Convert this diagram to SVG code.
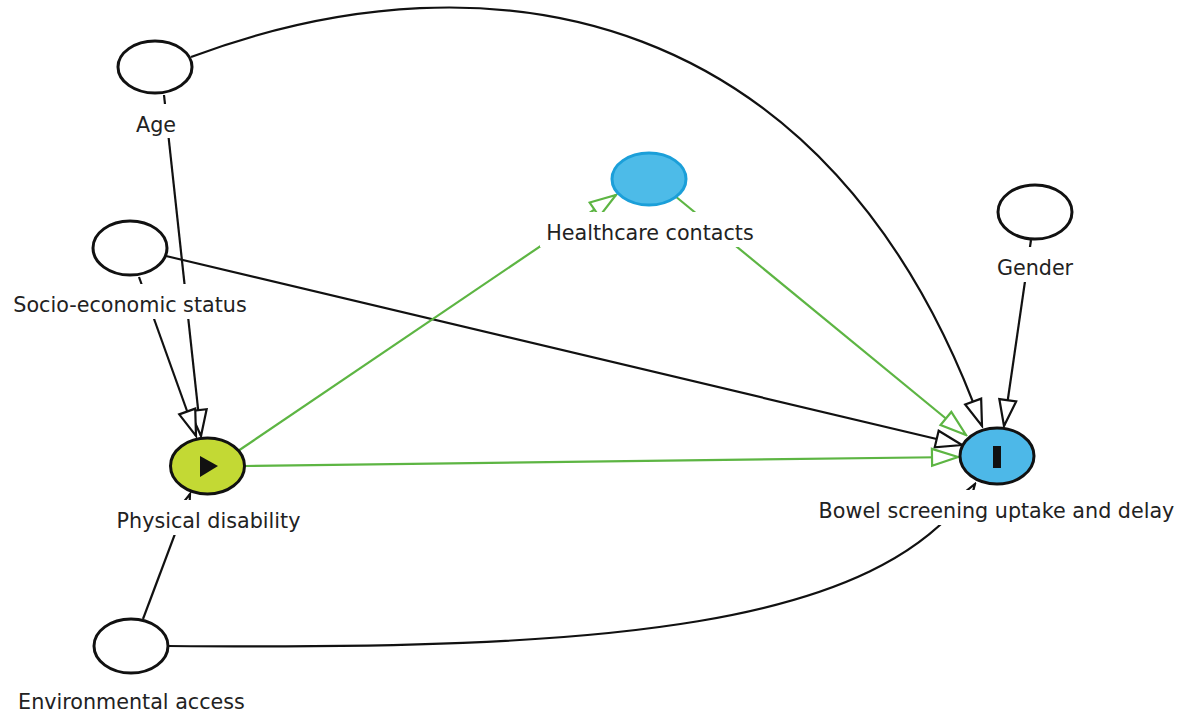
<svg xmlns="http://www.w3.org/2000/svg" width="1180" height="715" viewBox="0 0 1180 715">
<style>
.e{fill:none;stroke:#111;stroke-width:2.2}
.g{fill:none;stroke:#5db543;stroke-width:2.2}
.n{fill:#fff;stroke:#111;stroke-width:3}
.lb{fill:#fff;stroke:none}
.t{font-family:"DejaVu Sans",sans-serif;font-size:20.7px;fill:#222;text-anchor:middle}
</style>
<defs>
<marker id="ab" viewBox="-2 -2 30 21" refX="26" refY="8.5" markerWidth="30" markerHeight="21" markerUnits="userSpaceOnUse" orient="auto">
<path d="M0,0 L26,8.5 L0,17 Z" fill="#fff" stroke="#111" stroke-width="2.2"/>
</marker>
<marker id="ag" viewBox="-2 -2 30 21" refX="26" refY="8.5" markerWidth="30" markerHeight="21" markerUnits="userSpaceOnUse" orient="auto">
<path d="M0,0 L26,8.5 L0,17 Z" fill="#fff" stroke="#5db543" stroke-width="2.2"/>
</marker>
</defs>
<rect width="1180" height="715" fill="#fff"/>
<g id="connectors">
<path class="e" d="M191,57 C491,-55 830,5 982,426" marker-end="url(#ab)"/>
<path class="e" d="M166,256 L962,445" marker-end="url(#ab)"/>
<path class="e" d="M1031,240 L1004,426" marker-end="url(#ab)"/>
<path class="e" d="M164,95 L201,436" marker-end="url(#ab)"/>
<path class="e" d="M139,277 L196,436" marker-end="url(#ab)"/>
<path class="e" d="M143,619 L190,494" marker-end="url(#ab)"/>
<path class="e" d="M168,646 C600,650 880,630 975,484" marker-end="url(#ab)"/>
<path class="g" d="M245,466 L958,457" marker-end="url(#ag)"/>
<path class="g" d="M238,451 L616,195" marker-end="url(#ag)"/>
<path class="g" d="M675,196 L966,435" marker-end="url(#ag)"/>
</g>
<g id="age">
<ellipse class="n" cx="155" cy="67" rx="37" ry="26"/>
<rect class="lb" x="130" y="104" width="52" height="34"/>
<text class="t" x="156" y="132">Age</text>
</g>
<g id="ses">
<ellipse class="n" cx="130" cy="248" rx="37" ry="27"/>
<rect class="lb" x="6" y="284" width="248" height="35"/>
<text class="t" x="130" y="312">Socio-economic status</text>
</g>
<g id="gender">
<ellipse class="n" cx="1035" cy="212" rx="37" ry="27"/>
<rect class="lb" x="992" y="247" width="86" height="35"/>
<text class="t" x="1035" y="275">Gender</text>
</g>
<g id="healthcare">
<rect class="lb" x="540" y="212" width="220" height="35"/>
<ellipse cx="649" cy="179" rx="37" ry="26" fill="#4dbbe8" stroke="#1b9fd9" stroke-width="3"/>
<text class="t" x="650" y="240">Healthcare contacts</text>
</g>
<g id="physical">
<ellipse cx="207.5" cy="466" rx="37" ry="28" fill="#c3d934" stroke="#111" stroke-width="3"/>
<path d="M200,456 L218,466 L200,477 Z" fill="#111"/>
<rect class="lb" x="110" y="500" width="196" height="35"/>
<text class="t" x="208.5" y="528">Physical disability</text>
</g>
<g id="outcome">
<ellipse cx="997" cy="456" rx="37" ry="28" fill="#4db8e8" stroke="#111" stroke-width="3"/>
<rect x="993" y="446" width="8" height="22" fill="#111"/>
<rect class="lb" x="815" y="490" width="364" height="35"/>
<text class="t" x="996.5" y="518">Bowel screening uptake and delay</text>
</g>
<g id="environment">
<ellipse class="n" cx="131" cy="646" rx="37" ry="27"/>
<text class="t" x="131.5" y="709">Environmental access</text>
</g>
</svg>
